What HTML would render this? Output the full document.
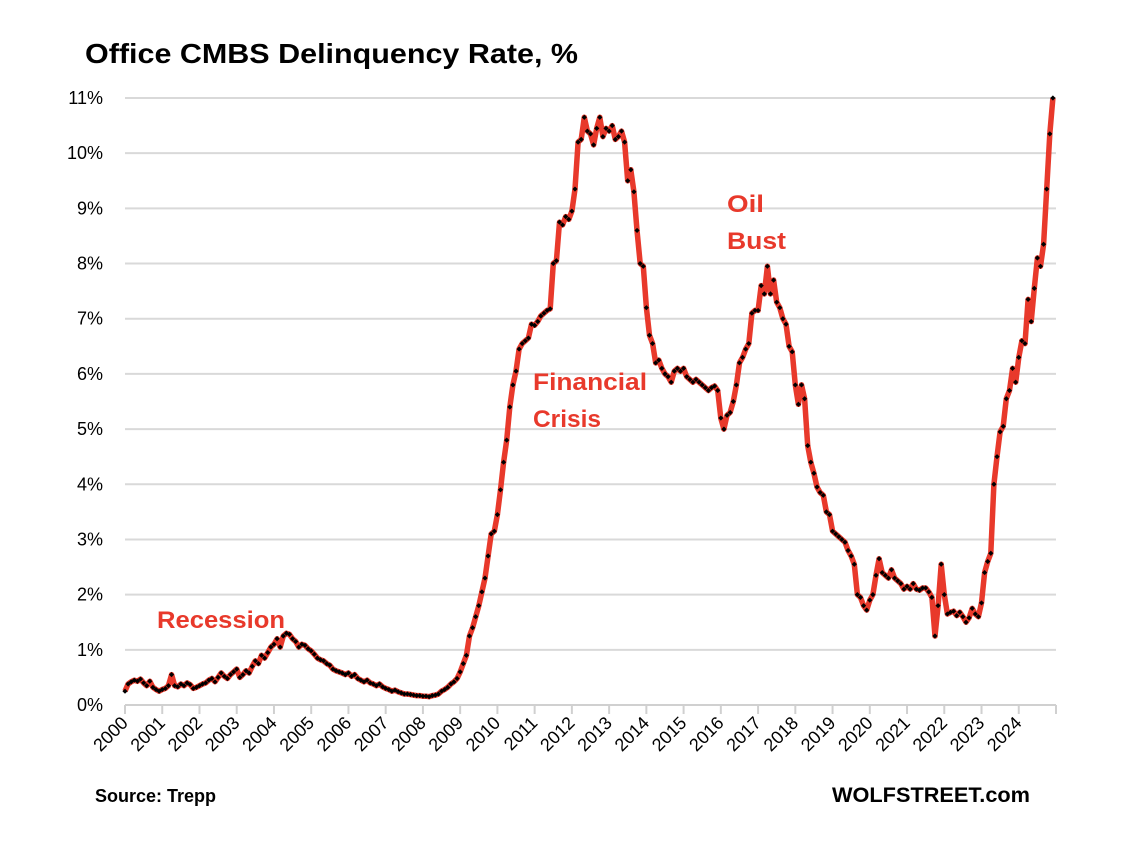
<!DOCTYPE html>
<html><head><meta charset="utf-8"><style>
body{margin:0;background:#fff;}
svg text{font-family:"Liberation Sans",sans-serif;}
</style></head><body>
<svg id="chart" width="1122" height="840" viewBox="0 0 1122 840" xmlns="http://www.w3.org/2000/svg">
<rect width="1122" height="840" fill="#fff"/>
<text x="85" y="63" font-size="28" font-weight="bold" fill="#000" textLength="493" lengthAdjust="spacingAndGlyphs">Office CMBS Delinquency Rate, %</text>
<g id="grid"></g><g id="yticks"></g><g id="xticks"></g><g id="series"></g>
<text x="157" y="628" font-size="24" font-weight="bold" fill="#e8392b" textLength="128" lengthAdjust="spacingAndGlyphs">Recession</text>
<text font-size="24" font-weight="bold" fill="#e8392b"><tspan x="533" y="390" textLength="114" lengthAdjust="spacingAndGlyphs">Financial</tspan><tspan x="533" y="427" textLength="68" lengthAdjust="spacingAndGlyphs">Crisis</tspan></text>
<text font-size="24" font-weight="bold" fill="#e8392b"><tspan x="727" y="212" textLength="37" lengthAdjust="spacingAndGlyphs">Oil</tspan><tspan x="727" y="249" textLength="59" lengthAdjust="spacingAndGlyphs">Bust</tspan></text>
<text x="95" y="802" font-size="18" font-weight="bold" fill="#000">Source: Trepp</text>
<text x="832" y="802" font-size="21" font-weight="bold" fill="#000" textLength="198" lengthAdjust="spacingAndGlyphs">WOLFSTREET.com</text>
</svg>
<script>
const yTickLabels=["0%","1%","2%","3%","4%","5%","6%","7%","8%","9%","10%","11%"];
const yTickValues=[0,1,2,3,4,5,6,7,8,9,10,11];
const years=["2000","2001","2002","2003","2004","2005","2006","2007","2008","2009","2010","2011","2012","2013","2014","2015","2016","2017","2018","2019","2020","2021","2022","2023","2024"];
const rates2000=[0.25,0.38,0.42,0.45,0.43,0.47,0.40,0.35,0.43,0.32,0.28,0.25];
const rates2001=[0.28,0.30,0.35,0.55,0.35,0.33,0.38,0.35,0.40,0.37,0.30,0.32];
const rates2002=[0.35,0.38,0.40,0.45,0.48,0.42,0.50,0.58,0.52,0.48,0.55,0.60];
const rates2003=[0.65,0.50,0.55,0.62,0.58,0.70,0.80,0.75,0.90,0.85,0.95,1.05];
const rates2004=[1.10,1.20,1.05,1.25,1.30,1.28,1.20,1.15,1.05,1.10,1.08,1.02];
const rates2005=[0.98,0.92,0.85,0.82,0.80,0.75,0.72,0.65,0.62,0.60,0.58,0.55];
const rates2006=[0.58,0.52,0.55,0.48,0.45,0.42,0.45,0.40,0.38,0.35,0.38,0.33];
const rates2007=[0.30,0.28,0.25,0.27,0.24,0.22,0.20,0.20,0.19,0.18,0.17,0.17];
const rates2008=[0.16,0.16,0.15,0.17,0.18,0.20,0.25,0.28,0.32,0.38,0.42,0.48];
const rates2009=[0.60,0.75,0.90,1.25,1.40,1.60,1.80,2.05,2.30,2.70,3.10,3.15];
const rates2010=[3.45,3.90,4.40,4.80,5.40,5.80,6.05,6.45,6.55,6.60,6.65,6.90];
const rates2011=[6.88,6.95,7.05,7.10,7.15,7.18,8.00,8.05,8.75,8.70,8.85,8.80];
const rates2012=[8.95,9.35,10.20,10.25,10.65,10.40,10.35,10.15,10.45,10.65,10.30,10.45];
const rates2013=[10.40,10.50,10.25,10.30,10.40,10.20,9.50,9.70,9.30,8.60,8.00,7.95];
const rates2014=[7.20,6.70,6.55,6.20,6.25,6.10,6.00,5.95,5.85,6.05,6.10,6.05];
const rates2015=[6.10,5.95,5.90,5.85,5.90,5.85,5.80,5.75,5.70,5.75,5.78,5.70];
const rates2016=[5.20,5.00,5.25,5.30,5.50,5.80,6.20,6.30,6.45,6.55,7.10,7.15];
const rates2017=[7.15,7.60,7.45,7.95,7.45,7.70,7.30,7.20,7.00,6.90,6.50,6.40];
const rates2018=[5.80,5.45,5.80,5.55,4.70,4.40,4.20,3.95,3.85,3.80,3.50,3.45];
const rates2019=[3.15,3.10,3.05,3.00,2.95,2.80,2.70,2.55,2.00,1.95,1.80,1.72];
const rates2020=[1.90,2.00,2.35,2.65,2.40,2.35,2.30,2.45,2.30,2.25,2.20,2.10];
const rates2021=[2.15,2.10,2.20,2.10,2.08,2.12,2.12,2.05,1.95,1.25,1.80,2.55];
const rates2022=[2.00,1.65,1.68,1.70,1.62,1.68,1.60,1.50,1.58,1.75,1.65,1.60];
const rates2023=[1.85,2.40,2.60,2.75,4.00,4.50,4.95,5.05,5.55,5.70,6.10,5.85];
const rates2024=[6.30,6.60,6.55,7.35,6.95,7.55,8.10,7.95,8.35,9.35,10.35,11.00];

const rates=[].concat(rates2000,rates2001,rates2002,rates2003,rates2004,rates2005,rates2006,rates2007,rates2008,rates2009,rates2010,rates2011,rates2012,rates2013,rates2014,rates2015,rates2016,rates2017,rates2018,rates2019,rates2020,rates2021,rates2022,rates2023,rates2024);

const NS="http://www.w3.org/2000/svg";
const X0=125,X1=1056,Y0=705,Y11=98;
function xScale(monthIndex){return X0+monthIndex*(X1-X0)/(years.length*12);}
function xYear(i){return X0+i*(X1-X0)/years.length;}
function yScale(v){return Y0-v*(Y0-Y11)/11;}
function mk(tag,attrs,parent){const e=document.createElementNS(NS,tag);for(const k in attrs)e.setAttribute(k,attrs[k]);parent.appendChild(e);return e;}

const grid=document.getElementById('grid'),yt=document.getElementById('yticks'),xt=document.getElementById('xticks'),ser=document.getElementById('series');
yTickValues.forEach((v,i)=>{
  if(v>0){const g=mk('line',{x1:X0,x2:X1,y1:yScale(v),y2:yScale(v),stroke:'#d9d9d9','stroke-width':2},grid);
  
  }
  const t=mk('text',{x:103,y:yScale(v)+6,'text-anchor':'end','font-size':18,fill:'#000'},yt);
  t.textContent=yTickLabels[i];
  
  
});
const ax=mk('line',{x1:X0,x2:X1,y1:Y0,y2:Y0,stroke:'#d0d0d0','stroke-width':2},grid);


for(let i=0;i<=years.length;i++){
  const tk=mk('line',{x1:xYear(i),x2:xYear(i),y1:Y0,y2:Y0+9,stroke:'#d0d0d0','stroke-width':2},xt);
  
  
}
years.forEach((yr,i)=>{
  const x=xYear(i)+4,y=Y0+19;
  const t=mk('text',{x:x,y:y,'text-anchor':'end','font-size':18,fill:'#000',transform:`rotate(-45 ${x} ${y})`},xt);
  t.textContent=yr;
  
  
});
const pts=rates.map((v,i)=>xScale(i).toFixed(1)+','+yScale(v).toFixed(1)).join(' ');
const line=mk('polyline',{points:pts,fill:'none',stroke:'#e8392b','stroke-width':5.5,'stroke-linejoin':'round'},ser);


rates.forEach((v,i)=>{
  const x=xScale(i),y=yScale(v);
  const d=mk('path',{d:`M${x} ${y-2.6}L${x+2.6} ${y}L${x} ${y+2.6}L${x-2.6} ${y}Z`,fill:'#000'},ser);
  
  
});
</script>
</body></html>
